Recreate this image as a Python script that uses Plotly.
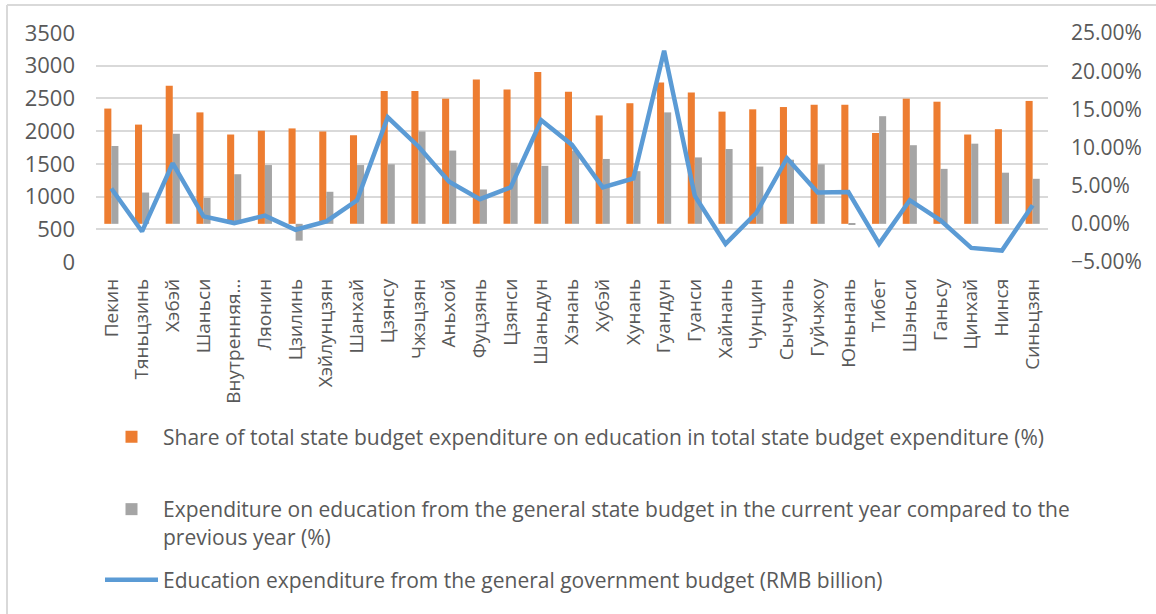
import plotly.graph_objects as go

regions = ["Пекин", "Тяньцзинь", "Хэбэй", "Шаньси", "Внутренняя…", "Ляонин", "Цзилинь",
           "Хэйлунцзян", "Шанхай", "Цзянсу", "Чжэцзян", "Аньхой", "Фуцзянь", "Цзянси",
           "Шаньдун", "Хэнань", "Хубэй", "Хунань", "Гуандун", "Гуанси", "Хайнань", "Чунцин",
           "Сычуань", "Гуйчжоу", "Юньнань", "Тибет", "Шэньси", "Ганьсу", "Цинхай", "Нинся",
           "Синьцзян"]

# share of education in total budget expenditure (%)
share_pct = [15.1, 13.0, 18.1, 14.6, 11.7, 12.2, 12.5, 12.1, 11.6, 17.4, 17.4, 16.4, 18.9,
             17.6, 19.9, 17.3, 14.2, 15.8, 18.5, 17.2, 14.7, 15.0, 15.3, 15.6, 15.6, 11.9,
             16.4, 16.0, 11.7, 12.4, 16.1]

# growth of education expenditure vs previous year (%)
growth_pct = [10.2, 4.1, 11.8, 3.4, 6.5, 7.7, -2.2, 4.2, 7.7, 7.8, 12.1, 9.6, 4.5, 8.0, 7.6,
              9.6, 8.5, 6.9, 14.6, 8.7, 9.8, 7.5, 8.4, 7.8, -0.1, 14.1, 10.3, 7.2, 10.5, 6.7,
              5.9]

# education expenditure from general government budget
expenditure = [1124, 467, 1509, 698, 595, 708, 493, 621, 944, 2212, 1766, 1227, 960, 1140,
               2166, 1790, 1140, 1278, 3229, 1011, 277, 749, 1586, 1063, 1068, 277, 944, 637,
               216, 175, 868]

name_share = "Share of total state budget expenditure on education in total state budget expenditure (%)"
name_growth = ("Expenditure on education from the general state budget in the current year compared to the"
               "<br>previous year (%)")
name_exp = "Education expenditure from the general government budget (RMB billion)"

FONT = "Open Sans"
TXT = "#595959"

fig = go.Figure()
fig.add_trace(go.Bar(x=regions, y=[v / 100 for v in share_pct], name=name_share,
                     marker=dict(color="#ED7D31", line=dict(width=0)), yaxis="y",
                     legend="legend"))
fig.add_trace(go.Bar(x=regions, y=[v / 100 for v in growth_pct], name=name_growth,
                     marker=dict(color="#A5A5A5", line=dict(width=0)), yaxis="y",
                     legend="legend2"))
fig.add_trace(go.Scatter(x=regions, y=expenditure, name=name_exp, mode="lines",
                         line=dict(color="#5B9BD5", width=4.5), yaxis="y2",
                         legend="legend3"))

legend_common = dict(font=dict(family=FONT, size=21, color=TXT), bgcolor="rgba(0,0,0,0)",
                     xref="container", yref="container", xanchor="left",
                     itemwidth=53)

fig.update_layout(
    width=1156, height=614,
    margin=dict(l=96, r=108, t=33, b=352, autoexpand=False),
    paper_bgcolor="white", plot_bgcolor="white",
    barmode="group", bargap=0.54, bargroupgap=0,
    font=dict(family=FONT, color=TXT),
    xaxis=dict(type="category", tickangle=-90, tickfont=dict(size=19, color=TXT),
               showgrid=False, showline=False, ticks="", ticklabelstandoff=12),
    yaxis=dict(side="right", range=[-0.05, 0.25], dtick=0.05, tickformat=".2%",
               showgrid=False, zeroline=False, showline=False,
               tickfont=dict(size=21, color=TXT), ticklabelstandoff=22),
    yaxis2=dict(overlaying="y", side="left", range=[0, 3500], dtick=500,
                showgrid=True, gridcolor="#D9D9D9", gridwidth=1.5, zeroline=False,
                showline=False, tickfont=dict(size=22, color=TXT), ticklabelstandoff=20),
    legend=dict(**legend_common, x=100 / 1156, y=1 - 437 / 614, yanchor="middle"),
    legend2=dict(**legend_common, x=100 / 1156, y=1 - 489 / 614, yanchor="top",
                 valign="top"),
    legend3=dict(**legend_common, x=100 / 1156, y=1 - 580 / 614, yanchor="middle"),
    showlegend=True,
    shapes=[
        dict(type="line", xref="paper", yref="paper",
             x0=(7 - 96) / 952, x1=(1156 - 96) / 952,
             y0=1 + 28 / 228.4, y1=1 + 28 / 228.4,
             line=dict(color="#D9D9D9", width=2)),
        dict(type="line", xref="paper", yref="paper",
             x0=(7 - 96) / 952, x1=(7 - 96) / 952,
             y0=1 + 28 / 228.4, y1=-(614 - 262) / 228.4,
             line=dict(color="#D9D9D9", width=2)),
    ],
)

fig.write_html("out.html")
